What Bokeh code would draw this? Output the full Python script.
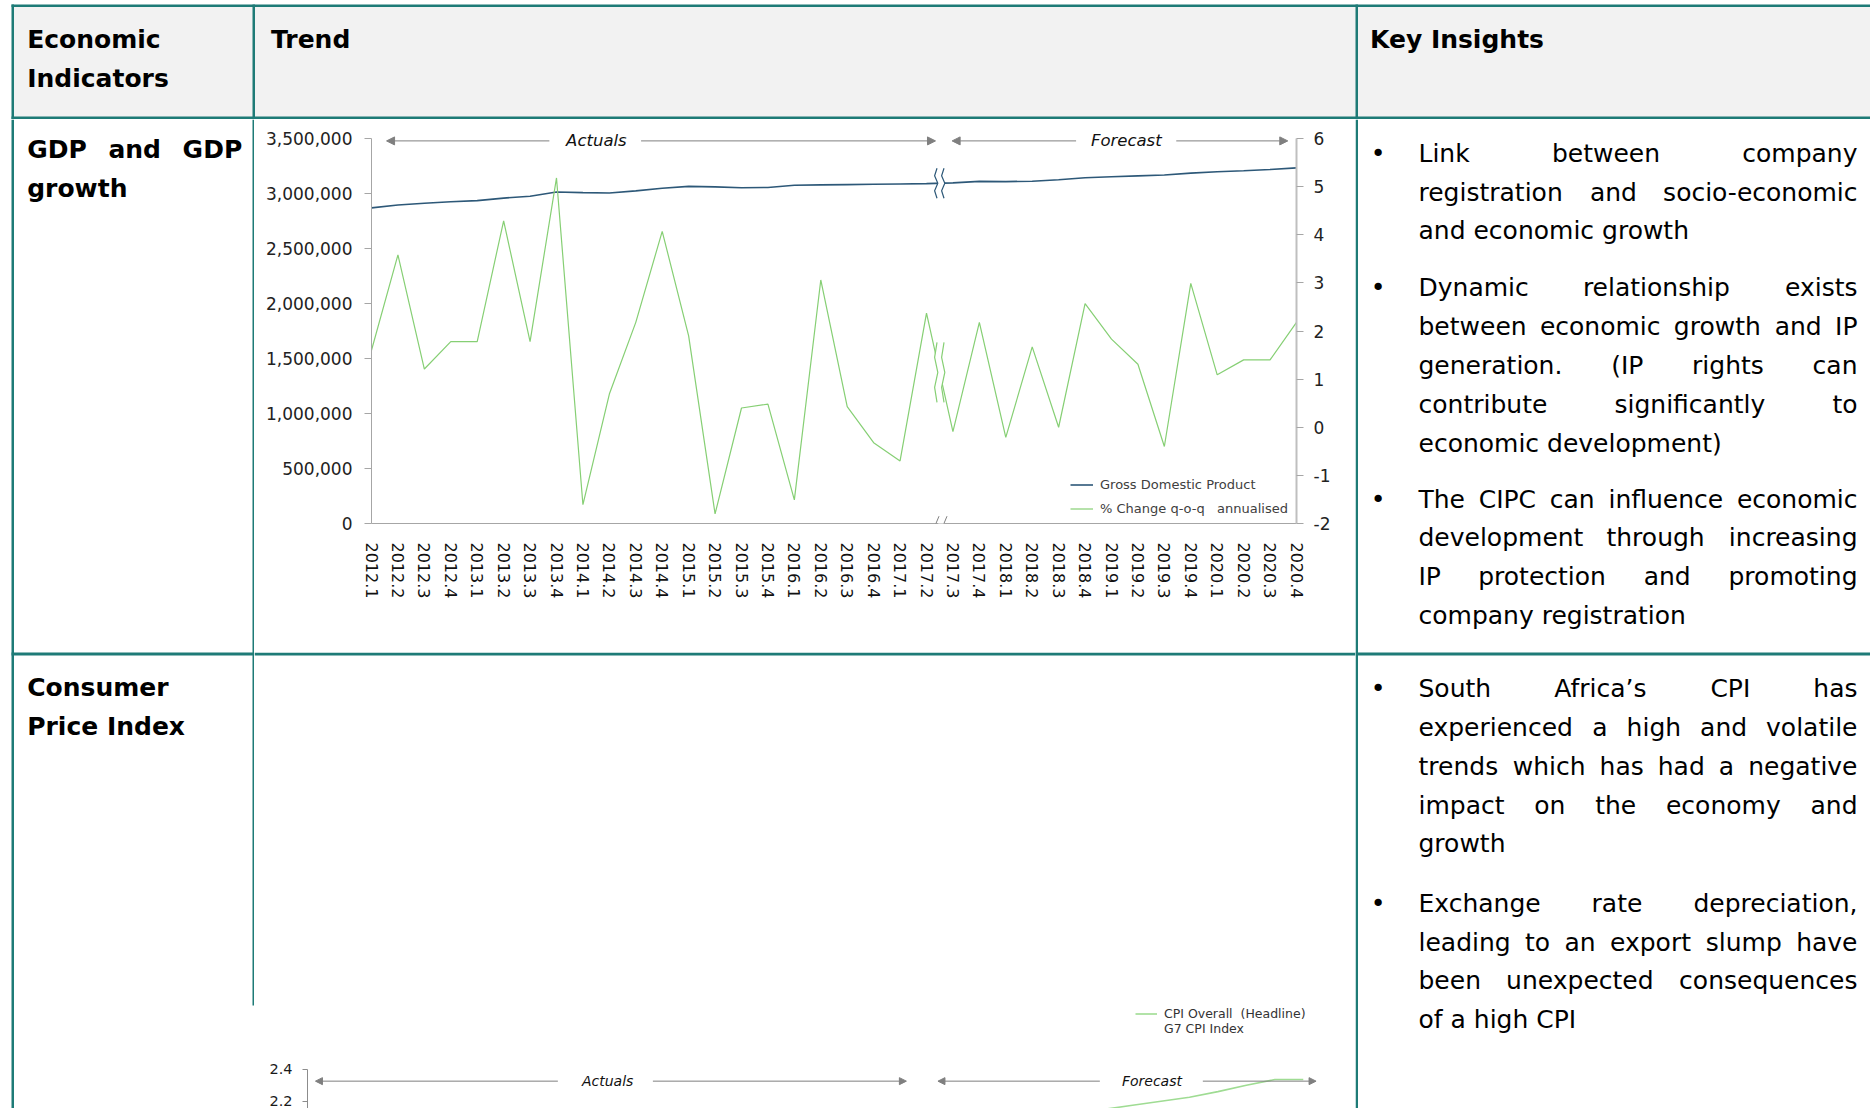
from bokeh.plotting import figure
from bokeh.models import (Range1d, LinearAxis, FixedTicker, NumeralTickFormatter, Legend,
                          LegendItem, Arrow, NormalHead, Label)
from bokeh.layouts import column, row
from bokeh.core.properties import value
from bokeh.embed import file_html
from bokeh.resources import INLINE

# ---------------- data ----------------
quarters = ["2012.1", "2012.2", "2012.3", "2012.4", "2013.1", "2013.2", "2013.3", "2013.4",
            "2014.1", "2014.2", "2014.3", "2014.4", "2015.1", "2015.2", "2015.3", "2015.4",
            "2016.1", "2016.2", "2016.3", "2016.4", "2017.1", "2017.2", "2017.3", "2017.4",
            "2018.1", "2018.2", "2018.3", "2018.4", "2019.1", "2019.2", "2019.3", "2019.4",
            "2020.1", "2020.2", "2020.3", "2020.4"]
gdp = [2869000, 2895000, 2912000, 2925000, 2935000, 2958000, 2975000, 3013000,
       3008000, 3005000, 3024000, 3048000, 3065000, 3060000, 3052000, 3055000,
       3075000, 3078000, 3081000, 3084000, 3087000, 3090000, 3097000, 3110000,
       3108000, 3112000, 3125000, 3143000, 3152000, 3160000, 3168000, 3185000,
       3198000, 3207000, 3218000, 3233000]
gdp_growth = [1.60, 3.58, 1.21, 1.78, 1.78, 4.29, 1.78, 5.18,
              -1.61, 0.69, 2.18, 4.07, 1.90, -1.80, 0.40, 0.48,
              -1.51, 3.06, 0.43, -0.32, -0.70, 2.37, -0.09, 2.18,
              -0.21, 1.67, 0.00, 2.57, 1.83, 1.31, -0.40, 2.99,
              1.09, 1.40, 1.40, 2.18]
gdp_ticks = [0, 500000, 1000000, 1500000, 2000000, 2500000, 3000000, 3500000]
growth_ticks = [-2, -1, 0, 1, 2, 3, 4, 5, 6]
forecast_start = "2017.3"

cpi_quarters = ["2019.1", "2019.2", "2019.3", "2019.4", "2020.1", "2020.2", "2020.3", "2020.4"]
cpi_overall = [2.15, 2.175, 2.20, 2.225, 2.26, 2.30, 2.335, 2.335]
g7_cpi = []
cpi_ticks = [2.0, 2.2, 2.4]

header_cells = ["Economic\nIndicators", "Trend", "Key Insights"]
row_titles = [["GDP and GDP", "growth"], ["Consumer", "Price Index"]]
insights_gdp = [
    ["Link between company", "registration and socio-economic", "and economic growth"],
    ["Dynamic relationship exists", "between economic growth and IP", "generation. (IP rights can",
     "contribute significantly to", "economic development)"],
    ["The CIPC can influence economic", "development through increasing",
     "IP protection and promoting", "company registration"],
]
insights_cpi = [
    ["South Africa\u2019s CPI has", "experienced a high and volatile",
     "trends which has had a negative", "impact on the economy and", "growth"],
    ["Exchange rate depreciation,", "leading to an export slump have",
     "been unexpected consequences", "of a high CPI"],
]

# ---------------- styling ----------------
FONT = "DejaVu Sans"
TEAL = "#1e7b77"
GREY_HDR = "#f2f2f2"
ARROW_GREY = "#7f7f7f"
GDP_COLOR = "#2d5878"
GROWTH_COLOR = "#86cf74"

DJ = {' ': 651, 'a': 1255, 'b': 1300, 'c': 1126, 'd': 1300, 'e': 1260, 'f': 721, 'g': 1300,
      'h': 1298, 'i': 569, 'j': 569, 'k': 1186, 'l': 569, 'm': 1995, 'n': 1298, 'o': 1253,
      'p': 1300, 'q': 1300, 'r': 842, 's': 1067, 't': 803, 'u': 1298, 'v': 1212, 'w': 1675,
      'x': 1212, 'y': 1212, 'z': 1075, 'A': 1401, 'C': 1430, 'D': 1577, 'E': 1294, 'G': 1587,
      'I': 604, 'L': 1141, 'P': 1235, 'S': 1300, 'T': 1251, '(': 799, ')': 799, '.': 651,
      ',': 651, '-': 739, '\u2019': 651}
DJB = {' ': 713, 'G': 1680, 'D': 1702, 'P': 1503, 'a': 1382, 'n': 1458, 'd': 1466}


def tw(s, size, bold=False):
    tab = DJB if bold else DJ
    return sum(tab.get(c, 1250) for c in s) / 2048.0 * size


def canvas(w, h):
    f = figure(width=w, height=h, x_range=Range1d(0, w), y_range=Range1d(h, 0),
               x_axis_location=None, y_axis_location=None, toolbar_location=None,
               output_backend="svg", min_border=0, tools="", frame_align=False)
    f.xgrid.visible = False
    f.ygrid.visible = False
    f.outline_line_color = None
    f.background_fill_color = "white"
    f.border_fill_color = "white"
    return f


def put_text(f, xs, ys, texts, size, align="left", style="normal", color="#000000"):
    if not xs:
        return
    f.text(x=xs, y=ys, text=texts, text_font=value(FONT), text_font_size=f"{size}px",
           text_font_style=style, text_align=align, text_baseline="middle",
           text_color=color)


def justified(f, lines, x0, x1, y0, dy, size, style="normal"):
    bold = style == "bold"
    lx, ly, lt, rx, ry, rt = [], [], [], [], [], []
    for i, line in enumerate(lines):
        y = y0 + i * dy
        words = line.split()
        if i == len(lines) - 1 or len(words) == 1:
            lx.append(x0); ly.append(y); lt.append(line)
            continue
        widths = [tw(w, size, bold) for w in words]
        gap = (x1 - x0 - sum(widths)) / (len(words) - 1)
        x = x0
        for j, w in enumerate(words):
            if j == len(words) - 1:
                rx.append(x1); ry.append(y); rt.append(w)
            else:
                lx.append(x); ly.append(y); lt.append(w)
            x += widths[j] + gap
    put_text(f, lx, ly, lt, size, "left", style)
    put_text(f, rx, ry, rt, size, "right", style)


# ---------------- header ----------------
W, H_HDR = 1870, 119
hdr = canvas(W, H_HDR)
hdr.quad(left=[12], right=[W], top=[5], bottom=[117], fill_color=GREY_HDR, line_color=None)
hdr.quad(left=[11, 11, 252, 1355, 11], right=[W, 13.5, 254.5, 1357.5, W],
         top=[4, 4, 4, 4, 116], bottom=[6.5, H_HDR, H_HDR, H_HDR, H_HDR],
         fill_color=TEAL, line_color=None)
h_lines = header_cells[0].split("\n")
put_text(hdr, [26.7, 26.7, 270.5, 1369.5], [38.5, 77.5, 38.5, 38.5],
         [h_lines[0], h_lines[1], header_cells[1], header_cells[2]], 25, "left", "bold")

# ---------------- left column ----------------
H_BODY = 989
left = canvas(254, H_BODY)
left.quad(left=[11, 252, 11], right=[13.5, 254, 254], top=[0, 0, 533], bottom=[H_BODY, 886, 536],
          fill_color=TEAL, line_color=None)
justified(left, row_titles[0], 26.7, 241.7, 30.0, 39.4, 25, "bold")
justified(left, row_titles[1], 26.7, 241.7, 568.0, 38.5, 25, "bold")

# ---------------- right column ----------------
right = canvas(515, H_BODY)
right.quad(left=[0, 0], right=[2.5, 515], top=[0, 533], bottom=[H_BODY, 536],
           fill_color=TEAL, line_color=None)
DY = 38.8
bullets_y = []
for paras, starts in ((insights_gdp, [33.7, 168.4, 379.5]), (insights_cpi, [569.1, 783.8])):
    for lines, y0 in zip(paras, starts):
        justified(right, lines, 63, 502, y0, DY, 25)
        bullets_y.append(y0)
put_text(right, [22.5] * len(bullets_y), bullets_y, ["\u2022"] * len(bullets_y), 25, "center")

# ---------------- GDP chart ----------------
x_idx = list(range(len(quarters)))
FW, FH = 925, 400          # frame size in px
TOP_PAD = 15               # px of frame above the top tick
PX_X = (len(quarters) - 1) / FW
PX_L = (gdp_ticks[-1] - gdp_ticks[0]) / (FH - TOP_PAD)
PX_R = (growth_ticks[-1] - growth_ticks[0]) / (FH - TOP_PAD)

p = figure(width=1101, height=533, x_range=Range1d(0, len(quarters) - 1),
           y_range=Range1d(gdp_ticks[0], gdp_ticks[-1] + TOP_PAD * PX_L),
           toolbar_location=None, tools="", output_backend="svg", frame_align=False,
           min_border_left=117, min_border_right=59, min_border_top=4, min_border_bottom=129)
p.extra_y_ranges = {"pct": Range1d(growth_ticks[0], growth_ticks[-1] + TOP_PAD * PX_R)}
p.xgrid.visible = False
p.ygrid.visible = False
p.outline_line_color = None
p.background_fill_color = "white"
p.border_fill_color = "white"

ya = p.yaxis[0]
ya.ticker = FixedTicker(ticks=gdp_ticks)
ya.bounds = (gdp_ticks[0], gdp_ticks[-1])
ya.formatter = NumeralTickFormatter(format="0,0")
ya.major_tick_out = 7
ya.major_tick_in = 0
ya.minor_tick_line_color = None
ya.axis_line_color = "#a6a6a6"
ya.major_tick_line_color = "#a6a6a6"
ya.major_label_text_font = FONT
ya.major_label_text_font_size = "17px"
ya.major_label_text_color = "#222222"
ya.major_label_standoff = 12

xa = p.xaxis[0]
xa.ticker = FixedTicker(ticks=x_idx)
xa.major_label_overrides = {i: q for i, q in zip(x_idx, quarters)}
xa.major_label_orientation = "vertical"
xa.major_tick_line_color = None
xa.minor_tick_line_color = None
xa.axis_line_color = "#a6a6a6"
xa.major_label_text_font = FONT
xa.major_label_text_font_size = "16px"
xa.major_label_text_color = "#111111"
xa.major_label_standoff = 13

ra = LinearAxis(y_range_name="pct", ticker=FixedTicker(ticks=growth_ticks),
                bounds=(growth_ticks[0], growth_ticks[-1]),
                formatter=NumeralTickFormatter(format="0"))
ra.major_tick_out = 7
ra.major_tick_in = 0
ra.minor_tick_line_color = None
ra.axis_line_color = "#bfbfbf"
ra.axis_line_width = 2
ra.major_tick_line_color = "#a6a6a6"
ra.major_label_text_font = FONT
ra.major_label_text_font_size = "17px"
ra.major_label_text_color = "#222222"
ra.major_label_standoff = 10
p.add_layout(ra, "right")

gdp_r = p.line(x=x_idx, y=gdp, line_color=GDP_COLOR, line_width=1.6)
growth_r = p.line(x=x_idx, y=gdp_growth, y_range_name="pct", line_color=GROWTH_COLOR,
                  line_width=1.2)

b = quarters.index(forecast_start)
xb = (x_idx[b - 1] + x_idx[b]) / 2.0


def break_mark(fig, xc, yc, half_px, pxy, color, rng):
    fr = [-1, -0.5, 0, 0.5, 1]
    amp = [0.8, -1.6, 1.6, -1.6, 0.8]
    ys = [yc + f * half_px * pxy for f in fr]
    lx = [xc + (-3.5 + a) * PX_X for a in amp]
    rx = [xc + (3.5 + a) * PX_X for a in amp]
    fig.patch(x=lx + rx[::-1], y=ys + ys[::-1], fill_color="white", line_color=None,
              y_range_name=rng)
    fig.multi_line(xs=[lx, rx], ys=[ys, ys], line_color=color, line_width=1.2,
                   y_range_name=rng)


break_mark(p, xb, (gdp[b - 1] + gdp[b]) / 2.0, 15, PX_L, GDP_COLOR, "default")
break_mark(p, xb, (gdp_growth[b - 1] + gdp_growth[b]) / 2.0, 30, PX_R, GROWTH_COLOR, "pct")

# x-axis break marks
p.add_layout(Arrow(end=None, x_start=xb - 1.5 * PX_X, x_end=xb + 4.5 * PX_X, y_start=0, y_end=0,
                   line_color="white", line_width=3))
for off in (-4.0, 4.0):
    p.add_layout(Arrow(end=None, x_start=xb + (off - 3.3) * PX_X, y_start=-8.4 * PX_L,
                       x_end=xb + (off + 3.3) * PX_X, y_end=7.3 * PX_L,
                       line_color="#808080", line_width=1))

# Actuals / Forecast arrows
ay = gdp_ticks[-1] - 2.4 * PX_L
for xs, xe in ((6.73, 0.57), (10.2, 21.34), (26.66, 21.97), (30.45, 34.67)):
    p.add_layout(Arrow(end=NormalHead(size=8, fill_color=ARROW_GREY, line_color=ARROW_GREY),
                       x_start=xs, y_start=ay, x_end=xe, y_end=ay,
                       line_color=ARROW_GREY, line_width=1))
for xt, t in ((8.51, "Actuals"), (28.56, "Forecast")):
    p.add_layout(Label(x=xt, y=ay, text=t, text_align="center", text_baseline="middle",
                       text_font=FONT, text_font_style="italic", text_font_size="16.5px",
                       text_color="#111111"))

legend = Legend(items=[LegendItem(label="Gross Domestic Product", renderers=[gdp_r]),
                       LegendItem(label="% Change q-o-q   annualised", renderers=[growth_r])],
                location=(699, 4), orientation="vertical", padding=0, margin=0, spacing=3,
                glyph_width=23, glyph_height=21, label_height=21, label_standoff=7,
                label_text_font=FONT, label_text_font_size="13px",
                label_text_color="#404040", border_line_color=None, background_fill_alpha=0)
p.add_layout(legend)

# ---------------- blank area of CPI cell ----------------
blank = canvas(1101, 353)
blank.quad(left=[0], right=[1101], top=[0], bottom=[3], fill_color=TEAL, line_color=None)

# ---------------- CPI chart (top part only visible) ----------------
c = figure(width=1101, height=103, x_range=Range1d(0, 35.5), y_range=Range1d(2.155, 2.795),
           x_axis_location=None, toolbar_location=None, tools="", output_backend="svg",
           frame_align=False,
           min_border_left=53, min_border_right=38, min_border_top=0, min_border_bottom=0)
c.xgrid.visible = False
c.ygrid.visible = False
c.outline_line_color = None
c.background_fill_color = "white"
c.border_fill_color = "white"
cy = c.yaxis[0]
cy.ticker = FixedTicker(ticks=cpi_ticks)
cy.bounds = (cpi_ticks[0], cpi_ticks[-1])
cy.major_tick_out = 5
cy.major_tick_in = 0
cy.minor_tick_line_color = None
cy.axis_line_color = "#8c8c8c"
cy.major_tick_line_color = "#8c8c8c"
cy.major_label_text_font = FONT
cy.major_label_text_font_size = "14.5px"
cy.major_label_text_color = "#1a1a1a"
cy.major_label_standoff = 10

cpi_x = [quarters.index(q) for q in cpi_quarters]
cpi_r = c.line(x=cpi_x, y=cpi_overall, line_color="#9fdc93", line_width=1.6)
g7_r = c.line(x=[], y=[], line_color="#ff7373", line_width=1.3)

cay = 2.325
for xs, xe in ((8.8, 0.28), (12.14, 21.05), (27.85, 22.16), (31.47, 35.45)):
    c.add_layout(Arrow(end=NormalHead(size=7, fill_color=ARROW_GREY, line_color=ARROW_GREY),
                       x_start=xs, y_start=cay, x_end=xe, y_end=cay,
                       line_color=ARROW_GREY, line_width=1))
for xt, t in ((10.55, "Actuals"), (29.68, "Forecast")):
    c.add_layout(Label(x=xt, y=cay, text=t, text_align="center", text_baseline="middle",
                       text_font=FONT, text_font_style="italic", text_font_size="14px",
                       text_color="#111111"))
clegend = Legend(items=[LegendItem(label="CPI Overall  (Headline)", renderers=[cpi_r]),
                        LegendItem(label="G7 CPI Index", renderers=[g7_r])],
                 location=(828, 72), orientation="vertical", padding=0, margin=0, spacing=0,
                 glyph_width=22, glyph_height=15, label_height=15, label_standoff=7,
                 label_text_font=FONT, label_text_font_size="12.5px",
                 label_text_color="#333333", border_line_color=None, background_fill_alpha=0)
c.add_layout(clegend)

layout = column(hdr, row(left, column(p, blank, c, spacing=0), right, spacing=0), spacing=0)
open("out.html", "w").write(file_html(layout, INLINE))
